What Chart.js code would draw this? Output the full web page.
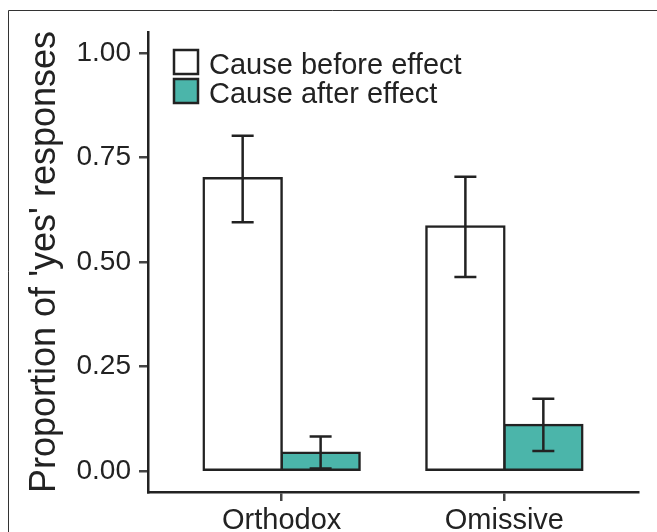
<!DOCTYPE html>
<html>
<head>
<meta charset="utf-8">
<script src="https://cdn.jsdelivr.net/npm/chart.js@4"></script>
<style>
  body { margin: 0; background: #fff; }
  canvas { display: block; }
</style>
</head>
<body>
<canvas id="myChart" width="657" height="532"></canvas>
<script>
// data
var categories = ['Orthodox', 'Omissive'];
var seriesNames = ['Cause before effect', 'Cause after effect'];
var before = [0.70, 0.585];
var beforeLow = [0.595, 0.464];
var beforeHigh = [0.802, 0.704];
var after = [0.044, 0.110];
var afterLow = [0.006, 0.048];
var afterHigh = [0.083, 0.173];
var yTicks = [0, 0.25, 0.5, 0.75, 1];

var teal = '#4bb5aa';
var ink = '#222222';
var font = '"Liberation Sans", Arial, sans-serif';

function points(vals) {
	return vals.map(function(v, i) { return { x: i + 1, y: v }; });
}

var frame = {
	id: 'frame',
	beforeDraw: function(chart) {
		var c = chart.ctx;
		c.save();
		c.fillStyle = '#fff';
		c.fillRect(0, 0, chart.width, chart.height);
		c.strokeStyle = '#333';
		c.lineWidth = 1;
		c.beginPath();
		c.moveTo(8.5, chart.height);
		c.lineTo(8.5, 10.5);
		c.lineTo(chart.width, 10.5);
		c.stroke();
		c.restore();
	}
};

var errorBars = {
	id: 'errorBars',
	afterDatasetsDraw: function(chart) {
		var c = chart.ctx;
		var ys = chart.scales.y;
		var lows = [beforeLow, afterLow];
		var highs = [beforeHigh, afterHigh];
		c.save();
		c.strokeStyle = ink;
		c.lineWidth = 2.5;
		chart.data.datasets.forEach(function(ds, i) {
			chart.getDatasetMeta(i).data.forEach(function(bar, j) {
				var lo = ys.getPixelForValue(lows[i][j]);
				var hi = ys.getPixelForValue(highs[i][j]);
				c.beginPath();
				c.moveTo(bar.x, lo); c.lineTo(bar.x, hi);
				c.moveTo(bar.x - 11, lo); c.lineTo(bar.x + 11, lo);
				c.moveTo(bar.x - 11, hi); c.lineTo(bar.x + 11, hi);
				c.stroke();
			});
		});
		c.restore();
	}
};

var legendBox = {
	id: 'legendBox',
	afterDraw: function(chart) {
		var c = chart.ctx;
		var left = chart.chartArea.left + 26;
		var fills = ['#fff', teal];
		c.save();
		c.font = '29px ' + font;
		c.textBaseline = 'alphabetic';
		seriesNames.forEach(function(name, i) {
			var top = 50 + i * 29;
			c.fillStyle = fills[i];
			c.fillRect(left, top, 24, 24);
			c.strokeStyle = ink;
			c.lineWidth = 2.5;
			c.strokeRect(left, top, 24, 24);
			c.fillStyle = ink;
			c.fillText(name, left + 35, top + 23.5);
		});
		c.restore();
	}
};

new Chart(document.getElementById('myChart'), {
	type: 'bar',
	data: {
		datasets: [
			{ label: seriesNames[0], data: points(before), backgroundColor: '#fff', borderColor: ink, borderWidth: 2.5, borderSkipped: false, inflateAmount: 1.25 },
			{ label: seriesNames[1], data: points(after), backgroundColor: teal, borderColor: ink, borderWidth: 2.5, borderSkipped: false, inflateAmount: 1.25 }
		]
	},
	options: {
		responsive: false,
		animation: false,
		categoryPercentage: 0.7,
		barPercentage: 1,
		layout: { padding: { left: 0, top: 32, right: 19, bottom: 0 } },
		plugins: { legend: { display: false }, tooltip: { enabled: false } },
		scales: {
			x: {
				type: 'linear',
				min: 0.4,
				max: 2.6,
				offset: false,
				afterBuildTicks: function(s) { s.ticks = categories.map(function(c, i) { return { value: i + 1 }; }); },
				afterFit: function(s) { s.height = 40; },
				ticks: {
					color: ink,
					padding: 3,
					font: { family: font, size: 29 },
					callback: function(v) { return categories[v - 1]; }
				},
				grid: { offset: false, drawOnChartArea: false, tickLength: 9, tickColor: '#444', lineWidth: 2.5 },
				border: { color: ink, width: 2.5 }
			},
			y: {
				min: -0.05,
				max: 1.05,
				afterBuildTicks: function(s) { s.ticks = yTicks.map(function(v) { return { value: v }; }); },
				afterFit: function(s) { s.width = 148; },
				ticks: {
					color: ink,
					padding: 8,
					font: { family: font, size: 28 },
					callback: function(v) { return v.toFixed(2); }
				},
				grid: { drawOnChartArea: false, tickLength: 9, tickColor: '#444', lineWidth: 2.5 },
				border: { color: ink, width: 2.5 },
				title: {
					display: true,
					text: "Proportion of 'yes' responses",
					color: ink,
					font: { family: font, size: 36 },
					padding: { top: 23, bottom: 0 }
				}
			}
		}
	},
	plugins: [frame, errorBars, legendBox]
});
</script>
</body>
</html>
